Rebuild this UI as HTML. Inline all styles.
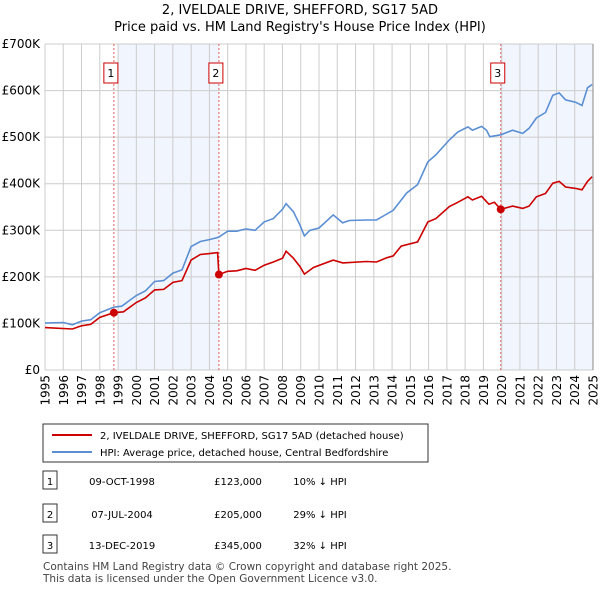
<!DOCTYPE html>
<html><head><meta charset="utf-8"><style>
body{margin:0;background:#fff;font-family:"DejaVu Sans","Liberation Sans",sans-serif;color:#222}
svg text{font-family:"DejaVu Sans","Liberation Sans",sans-serif}
</style></head><body>
<svg id="chart" width="600" height="590">
<text x="300" y="14" text-anchor="middle" font-size="13">2, IVELDALE DRIVE, SHEFFORD, SG17 5AD</text>
<text x="300" y="31" text-anchor="middle" font-size="13">Price paid vs. HM Land Registry's House Price Index (HPI)</text>
<g id="grid"></g><g id="marks"></g>
<g>
<rect x="43" y="424" width="385" height="38" fill="#fff" stroke="#333"/>
<line x1="52" y1="435" x2="92" y2="435" stroke="#cc0000" stroke-width="2"/>
<text x="100" y="439" font-size="10">2, IVELDALE DRIVE, SHEFFORD, SG17 5AD (detached house)</text>
<line x1="52" y1="452" x2="92" y2="452" stroke="#5b8fd4" stroke-width="2"/>
<text x="100" y="456" font-size="10">HPI: Average price, detached house, Central Bedfordshire</text>
</g>
<g id="table" font-size="10"></g>
<text x="43" y="570" font-size="10.5" fill="#444">Contains HM Land Registry data © Crown copyright and database right 2025.</text>
<text x="43" y="582" font-size="10.5" fill="#444">This data is licensed under the Open Government Licence v3.0.</text>
</svg>
<script>
const hpiYears=[1995,1996,1996.5,1997,1997.5,1998,1998.77,1999.2,2000,2000.5,2001,2001.5,2002,2002.5,2003,2003.5,2004,2004.5,2005,2005.5,2006,2006.5,2007,2007.5,2008,2008.2,2008.6,2008.96,2009.2,2009.5,2010,2010.78,2011.3,2011.66,2012.6,2013.15,2014.06,2014.8,2015.4,2015.96,2016.4,2017.14,2017.6,2018.15,2018.4,2018.9,2019.17,2019.35,2019.95,2020.6,2021.15,2021.5,2021.9,2022.4,2022.8,2023.15,2023.5,2024.05,2024.4,2024.7,2024.95];
const hpiValues=[101,102,97,105,108,123,135,137,160,170,190,192,208,215,265,276,280,285,298,298,303,300,318,325,345,357,340,311,288,300,305,333,316,321,322,322,343,380,398,447,462,494,511,522,515,523,515,501,505,515,508,519,541,553,590,595,580,575,568,606,613];
const priceYears=[1995,1996.5,1997,1997.5,1998,1998.77,1999.3,2000,2000.5,2001,2001.5,2002,2002.5,2003,2003.5,2004,2004.45,2004.52,2005,2005.5,2006,2006.5,2007,2007.5,2008,2008.2,2008.6,2008.96,2009.2,2009.7,2010.78,2011.3,2012.6,2013.15,2013.7,2014.06,2014.5,2015.4,2015.96,2016.4,2017.14,2017.6,2018.15,2018.4,2018.9,2019.3,2019.6,2019.95,2020.6,2021.15,2021.5,2021.9,2022.4,2022.8,2023.15,2023.5,2024.05,2024.4,2024.7,2024.95];
const priceValues=[91,88,95,98,113,123,125,145,155,172,173,188,192,236,248,250,252,205,212,213,218,214,225,232,240,255,240,222,206,220,236,230,233,232,241,245,266,275,318,325,351,360,372,365,373,356,360,345,352,347,352,372,379,401,405,393,390,387,405,415];
const saleYears=[1998.77,2004.52,2019.95];
const saleValues=[123,205,345];
const saleLabels=["1","2","3"];
const saleDates=["09-OCT-1998","07-JUL-2004","13-DEC-2019"];
const salePrices=["£123,000","£205,000","£345,000"];
const saleHpi=["10% ↓ HPI","29% ↓ HPI","32% ↓ HPI"];
const yTicks=[0,100,200,300,400,500,600,700];
const yTickLabels=["£0","£100K","£200K","£300K","£400K","£500K","£600K","£700K"];
const xTicks=[];for(let y=1995;y<=2025;y++)xTicks.push(y);

const X0=45,X1=593,Y0=370,Y1=44;
const xs=y=>X0+(y-1995)/30*(X1-X0);
const ys=v=>Y0-v/700*(Y0-Y1);
const NS="http://www.w3.org/2000/svg";
function mk(p,t,a){const e=document.createElementNS(NS,t);for(const k in a)e.setAttribute(k,a[k]);p.appendChild(e);return e;}
const grid=document.getElementById('grid'),marks=document.getElementById('marks');
let s1=mk(grid,'rect',{x:xs(1999),y:Y1,width:xs(2004.52)-xs(1999),height:Y0-Y1,fill:'#eef3fc',opacity:0.8});


let s2=mk(grid,'rect',{x:xs(2019.95),y:Y1,width:X1-xs(2019.95),height:Y0-Y1,fill:'#eef3fc',opacity:0.8});


xTicks.forEach(y=>{
 mk(grid,'line',{x1:xs(y),y1:Y1,x2:xs(y),y2:Y0,stroke:'#ccc','stroke-width':1});
 const tx=xs(y)+4.5,ty=375;
 const t=mk(grid,'text',{x:tx,y:ty,'text-anchor':'end','font-size':12,transform:`rotate(-90 ${tx} ${ty})`});
 t.textContent=y;
 
 
});
yTicks.forEach((v,i)=>{
 mk(grid,'line',{x1:X0,y1:ys(v),x2:X1,y2:ys(v),stroke:'#ccc','stroke-width':1});
 const t=mk(grid,'text',{x:40,y:ys(v)+4,'text-anchor':'end','font-size':12});
 t.textContent=yTickLabels[i];
 
 
});
saleYears.forEach((y,i)=>{
 const l=mk(marks,'line',{x1:xs(y),y1:Y1,x2:xs(y),y2:Y0,stroke:'#e06060','stroke-width':1,'stroke-dasharray':'2,2'});
 
 
});
const pts=(a,b)=>a.map((y,i)=>xs(y).toFixed(1)+','+ys(b[i]).toFixed(1)).join(' ');
const h=mk(marks,'polyline',{points:pts(hpiYears,hpiValues),fill:'none',stroke:'#5b8fd4','stroke-width':1.6});


const p=mk(marks,'polyline',{points:pts(priceYears,priceValues),fill:'none',stroke:'#cc0000','stroke-width':1.6});


saleYears.forEach((y,i)=>{
 const c=mk(marks,'circle',{cx:xs(y),cy:ys(saleValues[i]),r:4,fill:'#cc0000'});
 
 
 const b=mk(marks,'rect',{x:xs(y)-10,y:63,width:14,height:20,fill:'#fff',stroke:'#cc0000'});
 
 
 const t=mk(marks,'text',{x:xs(y)-3,y:77,'text-anchor':'middle','font-size':11});
 t.textContent=saleLabels[i];
 
 
});
mk(marks,'line',{x1:X1,y1:Y1,x2:X1,y2:Y0,stroke:'#888'});
const tb=document.getElementById('table');
const rowsY=[481,514,545];
saleYears.forEach((y,i)=>{
 const ry=rowsY[i];
 const b=mk(tb,'rect',{x:43,y:ry-10,width:14,height:18,fill:'#fff',stroke:'#333'});
 
 
 const cells=[[50,saleLabels[i],'middle'],[122,saleDates[i],'middle'],[238,salePrices[i],'middle'],[320,saleHpi[i],'middle']];
 cells.forEach(c=>{
  const t=mk(tb,'text',{x:c[0],y:ry+4,'text-anchor':c[2]});
  t.textContent=c[1];
  
  
 });
});
</script>
</body></html>
